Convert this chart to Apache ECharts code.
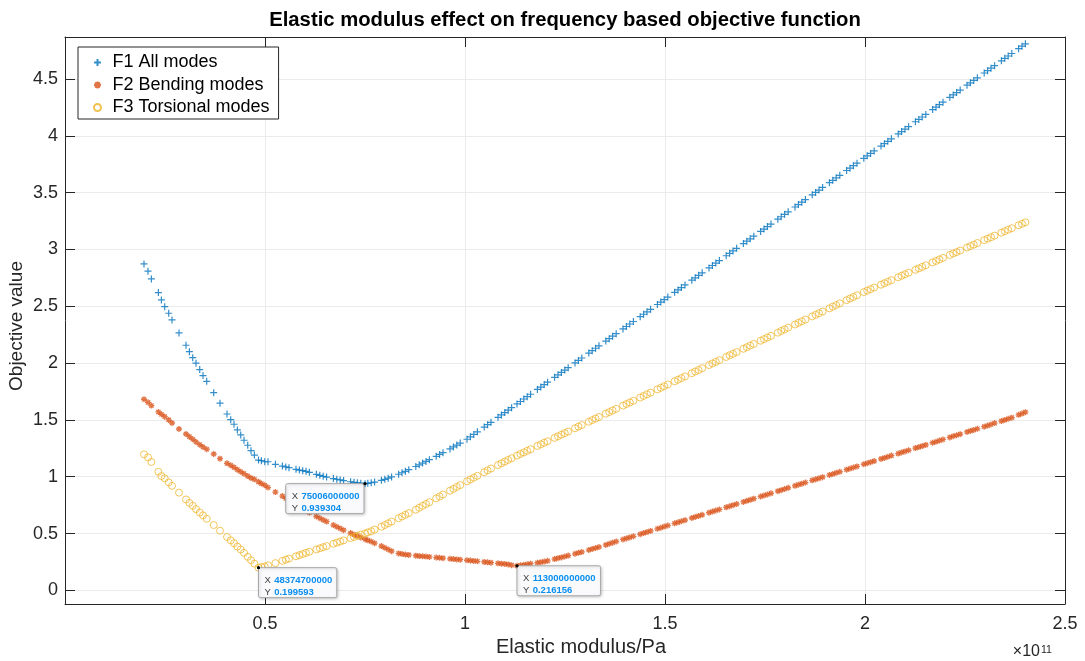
<!DOCTYPE html>
<html>
<head>
<meta charset="utf-8">
<title>Elastic modulus effect on frequency based objective function</title>
<script src="https://cdn.jsdelivr.net/npm/echarts@6/dist/echarts.min.js"></script>
<style>
  html, body { margin: 0; padding: 0; background: #fff; }
  #chart { width: 1085px; height: 661px; }
</style>
</head>
<body>
<div id="chart"></div>
<script>
// elastic modulus in units of 1e11 Pa
const modulusE11 = [
  0.1975, 0.2075, 0.216, 0.2335, 0.241, 0.2493, 0.2593, 0.2675, 0.285, 0.3025,
  0.311, 0.3193, 0.3275, 0.3368, 0.345, 0.3543, 0.3718, 0.3875, 0.405, 0.4143,
  0.4225, 0.431, 0.4393, 0.4475, 0.4568, 0.465, 0.4735, 0.483747, 0.491, 0.4993,
  0.5075, 0.526, 0.5435, 0.552, 0.56, 0.5775, 0.586, 0.5943, 0.6025, 0.611,
  0.6285,
  0.637, 0.6455, 0.654, 0.671, 0.6795, 0.688, 0.6965, 0.714, 0.7225, 0.731,
  0.7395, 0.75006, 0.757, 0.7655, 0.774, 0.791, 0.7995, 0.808, 0.8165, 0.834,
  0.8425, 0.851, 0.8595, 0.877, 0.8855, 0.894, 0.9025, 0.911, 0.928, 0.9365,
  0.945, 0.9625, 0.971, 0.9795, 0.988, 1.005, 1.0135, 1.022, 1.031, 1.048,
  1.0565, 1.065, 1.0825, 1.091, 1.0995, 1.108, 1.1165, 1.13, 1.1385, 1.147,
  1.1555, 1.164, 1.181, 1.1895, 1.198, 1.2065, 1.224, 1.2325, 1.241, 1.2495,
  1.258, 1.275, 1.2835, 1.292, 1.3095, 1.318, 1.3265, 1.335, 1.352, 1.3605,
  1.369, 1.378, 1.395, 1.4035, 1.412, 1.421, 1.438, 1.4465, 1.455, 1.464,
  1.481, 1.4895, 1.498, 1.507, 1.524, 1.5325, 1.541, 1.55, 1.567, 1.5755,
  1.584, 1.593, 1.61, 1.6185, 1.627, 1.636, 1.653, 1.6615, 1.67, 1.679,
  1.696, 1.7045, 1.713, 1.722, 1.739, 1.7475, 1.756, 1.765, 1.782, 1.7905,
  1.799, 1.808, 1.825, 1.8335, 1.842, 1.851, 1.868, 1.8765, 1.885, 1.894,
  1.911, 1.9195, 1.928, 1.937, 1.954, 1.9625, 1.971, 1.98, 1.997, 2.0055,
  2.014, 2.023, 2.04, 2.0485, 2.057, 2.066, 2.083, 2.0915, 2.1, 2.109,
  2.126, 2.1345, 2.143, 2.152, 2.169, 2.1775, 2.186, 2.195, 2.212, 2.2205,
  2.229, 2.238, 2.255, 2.2635, 2.272, 2.281, 2.298, 2.3065, 2.315, 2.324,
  2.341, 2.3495, 2.358, 2.367, 2.384, 2.3925, 2.401
];

const f1All = [
  2.873, 2.809, 2.741, 2.621, 2.556, 2.497, 2.439, 2.380, 2.266, 2.157,
  2.101, 2.048, 1.999, 1.943, 1.890, 1.840, 1.740, 1.647, 1.552, 1.502,
  1.462, 1.412, 1.368, 1.321, 1.277, 1.229, 1.191, 1.147, 1.141, 1.132,
  1.132, 1.109, 1.094, 1.086, 1.080, 1.065, 1.059, 1.053, 1.048, 1.039,
  1.021,
  1.012, 1.004, 0.997, 0.984, 0.978, 0.972, 0.966, 0.956, 0.951, 0.947,
  0.943, 0.939304, 0.942, 0.947, 0.953, 0.968, 0.977, 0.987, 0.998, 1.022,
  1.035, 1.048, 1.062, 1.090, 1.105, 1.120, 1.135, 1.150, 1.180, 1.196,
  1.212, 1.245, 1.262, 1.279, 1.296, 1.330, 1.351, 1.372, 1.395, 1.437,
  1.458, 1.479, 1.523, 1.544, 1.565, 1.586, 1.608, 1.641, 1.662, 1.684,
  1.705, 1.726, 1.768, 1.789, 1.811, 1.832, 1.875, 1.897, 1.918, 1.939,
  1.960, 2.002, 2.024, 2.045, 2.088, 2.109, 2.131, 2.152, 2.194, 2.215,
  2.237, 2.259, 2.301, 2.322, 2.344, 2.366, 2.409, 2.430, 2.451, 2.473,
  2.516, 2.537, 2.558, 2.581, 2.623, 2.644, 2.665, 2.688, 2.730, 2.751,
  2.773, 2.795, 2.838, 2.859, 2.880, 2.902, 2.945, 2.966, 2.987, 3.010,
  3.052, 3.073, 3.094, 3.117, 3.159, 3.180, 3.202, 3.224, 3.267, 3.288,
  3.309, 3.331, 3.374, 3.395, 3.416, 3.439, 3.481, 3.502, 3.523, 3.546,
  3.588, 3.609, 3.631, 3.653, 3.695, 3.716, 3.738, 3.760, 3.802, 3.824,
  3.845, 3.867, 3.910, 3.931, 3.952, 3.974, 4.017, 4.038, 4.059, 4.081,
  4.124, 4.145, 4.166, 4.189, 4.231, 4.252, 4.274, 4.296, 4.339, 4.360,
  4.381, 4.403, 4.446, 4.467, 4.488, 4.511, 4.553, 4.574, 4.596, 4.618,
  4.660, 4.682, 4.703, 4.725, 4.767, 4.789, 4.810
];

const f2Bending = [
  1.682, 1.655, 1.626, 1.570, 1.550, 1.529, 1.500, 1.473, 1.420, 1.376,
  1.353, 1.330, 1.306, 1.282, 1.262, 1.242, 1.200, 1.159, 1.118, 1.100,
  1.083, 1.062, 1.044, 1.027, 1.006, 0.989, 0.977, 0.955, 0.940, 0.925,
  0.905, 0.865, 0.830, 0.810, 0.790, 0.755, 0.735, 0.720, 0.700, 0.685,
  0.650,
  0.635, 0.620, 0.605, 0.575, 0.560, 0.545, 0.530, 0.505, 0.490, 0.480,
  0.465, 0.450, 0.440, 0.430, 0.415, 0.390, 0.375, 0.360, 0.345, 0.325,
  0.320, 0.315, 0.312, 0.305, 0.302, 0.300, 0.297, 0.294, 0.289, 0.286,
  0.283, 0.278, 0.275, 0.272, 0.270, 0.265, 0.262, 0.259, 0.256, 0.250,
  0.247, 0.244, 0.238, 0.235, 0.232, 0.228, 0.222, 0.216156, 0.220, 0.225,
  0.230, 0.235, 0.243, 0.248, 0.253, 0.260, 0.275, 0.283, 0.290, 0.298,
  0.306, 0.322, 0.330, 0.338, 0.355, 0.364, 0.373, 0.382, 0.400, 0.410,
  0.420, 0.430, 0.448, 0.457, 0.466, 0.476, 0.494, 0.504, 0.513, 0.523,
  0.542, 0.551, 0.561, 0.571, 0.590, 0.599, 0.608, 0.618, 0.637, 0.646,
  0.655, 0.665, 0.684, 0.693, 0.703, 0.712, 0.731, 0.740, 0.750, 0.760,
  0.778, 0.788, 0.797, 0.807, 0.826, 0.835, 0.844, 0.854, 0.873, 0.882,
  0.892, 0.902, 0.920, 0.930, 0.939, 0.949, 0.968, 0.977, 0.986, 0.996,
  1.015, 1.024, 1.034, 1.044, 1.062, 1.072, 1.081, 1.091, 1.110, 1.119,
  1.128, 1.138, 1.157, 1.166, 1.176, 1.186, 1.204, 1.214, 1.223, 1.233,
  1.252, 1.261, 1.270, 1.280, 1.299, 1.308, 1.318, 1.328, 1.346, 1.356,
  1.365, 1.375, 1.394, 1.403, 1.412, 1.422, 1.441, 1.450, 1.460, 1.472,
  1.490, 1.500, 1.510, 1.520, 1.545, 1.556, 1.568
];

const f3Torsional = [
  1.197, 1.170, 1.130, 1.044, 1.006, 0.986, 0.950, 0.920, 0.860, 0.800,
  0.770, 0.745, 0.715, 0.685, 0.660, 0.630, 0.575, 0.525, 0.470, 0.440,
  0.415, 0.385, 0.360, 0.330, 0.295, 0.265, 0.235, 0.199593, 0.205, 0.210,
  0.220, 0.240, 0.260, 0.270, 0.280, 0.300, 0.310, 0.320, 0.330, 0.340,
  0.360,
  0.370, 0.380, 0.390, 0.410, 0.420, 0.430, 0.440, 0.460, 0.470, 0.480,
  0.490, 0.500, 0.510, 0.520, 0.535, 0.560, 0.575, 0.590, 0.605, 0.635,
  0.650, 0.665, 0.680, 0.710, 0.727, 0.744, 0.760, 0.776, 0.810, 0.826,
  0.843, 0.877, 0.893, 0.910, 0.926, 0.960, 0.976, 0.992, 1.008, 1.040,
  1.056, 1.072, 1.103, 1.118, 1.133, 1.148, 1.163, 1.186, 1.200, 1.214,
  1.228, 1.242, 1.271, 1.285, 1.299, 1.313, 1.342, 1.356, 1.370, 1.384,
  1.398, 1.427, 1.441, 1.455, 1.484, 1.498, 1.512, 1.526, 1.555, 1.569,
  1.583, 1.598, 1.626, 1.640, 1.654, 1.669, 1.697, 1.711, 1.726, 1.740,
  1.769, 1.783, 1.797, 1.812, 1.840, 1.854, 1.868, 1.883, 1.911, 1.926,
  1.940, 1.955, 1.983, 1.997, 2.011, 2.026, 2.054, 2.069, 2.082, 2.097,
  2.126, 2.140, 2.154, 2.169, 2.197, 2.211, 2.225, 2.240, 2.268, 2.283,
  2.297, 2.312, 2.340, 2.354, 2.368, 2.383, 2.411, 2.425, 2.439, 2.454,
  2.482, 2.497, 2.511, 2.526, 2.554, 2.568, 2.582, 2.597, 2.625, 2.638,
  2.651, 2.665, 2.690, 2.703, 2.716, 2.730, 2.756, 2.769, 2.782, 2.795,
  2.821, 2.834, 2.847, 2.861, 2.886, 2.899, 2.912, 2.926, 2.952, 2.965,
  2.977, 2.991, 3.017, 3.030, 3.043, 3.057, 3.082, 3.095, 3.108, 3.122,
  3.148, 3.161, 3.174, 3.187, 3.213, 3.226, 3.239
];

const seriesNames = ['F1 All modes', 'F2 Bending modes', 'F3 Torsional modes'];

// data tips (x in 1e11 Pa)
const tipX = [0.75006, 0.483747, 1.13];
const tipY = [0.939304, 0.199593, 0.216156];

const FONT = '"Liberation Sans", Arial, Helvetica, sans-serif';
const AXIS_COLOR = '#262626';
const GRID_COLOR = '#ebebeb';

const plusPath = 'path://M0,5L10,5M5,0L5,10';
const starPath = 'path://M5,0L5,10M0,5L10,5M1.46,1.46L8.54,8.54M8.54,1.46L1.46,8.54';

const chart = echarts.init(document.getElementById('chart'), null, { renderer: 'canvas' });

function pairs(ys) {
  return modulusE11.map((x, i) => [x, ys[i]]);
}

function isHalfStep(v) {
  return Math.abs(v * 2 - Math.round(v * 2)) < 1e-6;
}

const boxAxis = {
  axisLine: { show: true, onZero: false, lineStyle: { color: AXIS_COLOR, width: 1 } },
  axisTick: { show: true, inside: true, length: 10, lineStyle: { color: AXIS_COLOR, width: 1 } }
};

chart.setOption({
  animation: false,
  backgroundColor: '#fff',
  grid: { left: 65, right: 20, top: 37, bottom: 57, containLabel: false, outerBoundsMode: 'none' },
  legend: {
    orient: 'vertical',
    left: 78,
    top: 47,
    padding: [6.5, 9, 2.5, 15],
    itemWidth: 20,
    itemHeight: 7,
    itemGap: 4.5,
    backgroundColor: '#fff',
    borderColor: AXIS_COLOR,
    borderWidth: 1,
    borderRadius: 0,
    textStyle: { fontSize: 18, color: '#000', fontFamily: FONT, lineHeight: 18 },
    data: seriesNames
  },
  xAxis: [
    Object.assign({
      type: 'value', position: 'bottom', min: 0, max: 2.5, interval: 0.5,
      axisLabel: {
        fontSize: 18, color: AXIS_COLOR, fontFamily: FONT, margin: 11,
        formatter: v => (v === 0 ? '' : String(v))
      },
      splitLine: { show: true, lineStyle: { color: GRID_COLOR, width: 1 } },
      name: 'Elastic modulus/Pa',
      nameLocation: 'middle',
      nameGap: 31,
      nameTextStyle: { fontSize: 20, color: AXIS_COLOR, fontFamily: FONT, padding: [0, 0, 0, 32] }
    }, boxAxis),
    Object.assign({
      type: 'value', position: 'top', min: 0, max: 2.5, interval: 0.5,
      axisLabel: { show: false }, splitLine: { show: false }
    }, boxAxis)
  ],
  yAxis: [
    Object.assign({
      type: 'value', position: 'left', min: -0.12, max: 4.87,
      minInterval: 0.5, maxInterval: 0.5,
      axisLabel: {
        fontSize: 18, color: AXIS_COLOR, fontFamily: FONT, margin: 7,
        formatter: v => (isHalfStep(v) ? String(Math.round(v * 10) / 10) : ''),
        showMinLabel: true, showMaxLabel: true
      },
      splitLine: { show: true, lineStyle: { color: GRID_COLOR, width: 1 } }
    }, boxAxis),
    Object.assign({
      type: 'value', position: 'right', min: -0.12, max: 4.87,
      minInterval: 0.5, maxInterval: 0.5,
      axisLabel: { show: false }, splitLine: { show: false }
    }, boxAxis)
  ],
  series: [
    {
      name: seriesNames[0], type: 'scatter', data: pairs(f1All),
      symbol: plusPath, symbolSize: 7,
      itemStyle: { color: 'rgba(0,0,0,0)', borderColor: '#0072BD', borderWidth: 1.2 },
      emphasis: { disabled: true }
    },
    {
      name: seriesNames[1], type: 'scatter', data: pairs(f2Bending),
      symbol: starPath, symbolSize: 6,
      itemStyle: { color: 'rgba(0,0,0,0)', borderColor: '#D95319', borderWidth: 1.3 },
      emphasis: { disabled: true }
    },
    {
      name: seriesNames[2], type: 'scatter', data: pairs(f3Torsional),
      symbol: 'circle', symbolSize: 7,
      itemStyle: { color: 'rgba(0,0,0,0)', borderColor: '#EDB120', borderWidth: 0.9 },
      emphasis: { disabled: true }
    }
  ]
});

// title, y label, axis exponent and data tips as graphic elements
const graphics = [
  {
    type: 'text', x: 565, y: 20,
    style: {
      text: 'Elastic modulus effect on frequency based objective function',
      font: 'bold 20.3px ' + FONT, fill: '#000', align: 'center', verticalAlign: 'middle'
    }
  },
  {
    type: 'text', x: 17, y: 326, rotation: Math.PI / 2,
    style: {
      text: 'Objective value',
      font: '19px ' + FONT, fill: AXIS_COLOR, align: 'center', verticalAlign: 'middle'
    }
  },
  {
    type: 'text', x: 1040, y: 651.5,
    style: { text: '\u00d710', font: '16px ' + FONT, fill: AXIS_COLOR, align: 'right', verticalAlign: 'middle' }
  },
  {
    type: 'text', x: 1041, y: 650,
    style: { text: '11', font: '10.5px ' + FONT, fill: AXIS_COLOR, align: 'left', verticalAlign: 'middle' }
  }
];

// box on the left of the first tip, on the right of the others
const tipLeftSide = [true, false, false];
tipX.forEach((x, i) => {
  const p = chart.convertToPixel({ xAxisIndex: 0, yAxisIndex: 0 }, [x, tipY[i]]);
  const xText = String(Math.round(x * 1e11));
  const yText = String(tipY[i]);
  const w = Math.max(xText.length, yText.length) * 5.3 + 20;
  const h = 30;
  const bx = tipLeftSide[i] ? p[0] - w - 1 : p[0];
  const by = p[1];
  graphics.push({
    type: 'rect', z: 100,
    shape: { x: bx, y: by, width: w, height: h, r: 2 },
    style: { fill: '#fafafc', stroke: '#a6a6a6', lineWidth: 1, shadowBlur: 3, shadowColor: 'rgba(0,0,0,0.18)', shadowOffsetX: 1, shadowOffsetY: 1 }
  });
  graphics.push({
    type: 'text', z: 101, x: bx + 6, y: by + 6.5,
    style: {
      text: '{k|X} {v|' + xText + '}\n{k|Y} {v|' + yText + '}',
      rich: {
        k: { fontFamily: FONT, fontSize: 9.5, fill: '#404040', lineHeight: 11.5 },
        v: { fontFamily: FONT, fontSize: 9.5, fontWeight: 'bold', fill: '#0a8ef0', lineHeight: 11.5 }
      }
    }
  });
  graphics.push({
    type: 'circle', z: 102,
    shape: { cx: p[0], cy: p[1], r: 1.6 },
    style: { fill: '#000' }
  });
});

chart.setOption({ graphic: graphics });
</script>
</body>
</html>
